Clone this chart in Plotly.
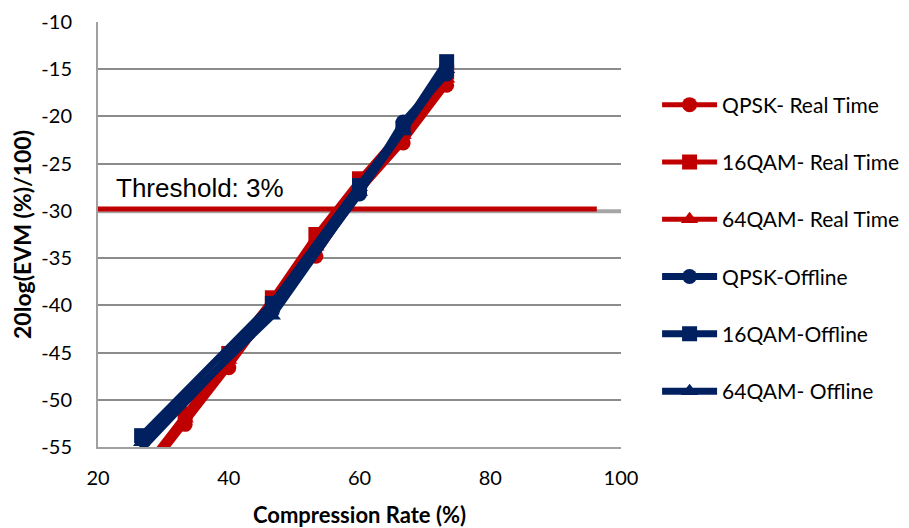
import plotly.graph_objects as go

# Real-time measurements (all compression rates)
rate_rt = [26.67, 33.33, 40, 46.67, 53.33, 60, 66.67, 73.33]
qpsk_rt = [-58.5, -52.6, -46.6, -40.3, -34.8, -28.0, -22.8, -16.7]
qam16_rt = [-57.5, -51.5, -45.1, -39.2, -32.5, -26.6, -21.3, -15.3]
qam64_rt = [-58.0, -52.0, -45.8, -39.8, -33.8, -27.5, -22.0, -16.0]

# Offline measurements (fewer compression rates)
rate_off = [26.67, 46.67, 60, 66.67, 73.33]
qpsk_off = [-55.2, -40.6, -28.2, -20.6, -15.5]
qam16_off = [-53.8, -39.8, -27.3, -21.2, -14.2]
qam64_off = [-54.5, -41.1, -28.0, -21.5, -15.0]

threshold_x = [20, 96.3]
threshold_y = [-29.8, -29.8]

y_tick_vals = [-55, -50, -45, -40, -35, -30, -25, -20, -15, -10]
y_tick_text = ["-55", "-50", "-45", "-40", "-35", "-30", "-25", "-20", "-15", "-10"]

series_names = ["QPSK- Real Time", "16QAM- Real Time", "64QAM- Real Time",
                "QPSK-Offline", "16QAM-Offline", "64QAM- Offline"]
series_x = [rate_rt, rate_rt, rate_rt, rate_off, rate_off, rate_off]
series_values = [qpsk_rt, qam16_rt, qam64_rt, qpsk_off, qam16_off, qam64_off]
symbols = ["circle", "square", "triangle-up", "circle", "square", "triangle-up"]
RED = "#C00000"
BLUE = "#002060"
colors = [RED, RED, RED, BLUE, BLUE, BLUE]
widths = [5, 5, 5, 7, 7, 7]
clips = [True, True, True, False, False, False]

FONT = "Lato, Noto Sans, sans-serif"

fig = go.Figure()

# gray shadow of threshold
fig.add_trace(go.Scatter(x=[20, 100], y=[-30.05, -30.05], mode="lines",
                         line=dict(color="#A6A6A6", width=4),
                         showlegend=False, hoverinfo="skip"))
fig.add_trace(go.Scatter(x=threshold_x, y=threshold_y, mode="lines",
                         line=dict(color=RED, width=5),
                         showlegend=False, hoverinfo="skip"))

for i, (name, xs, vals, sym, col, w, clip) in enumerate(
        zip(series_names, series_x, series_values, symbols, colors, widths, clips)):
    fig.add_trace(go.Scatter(
        x=xs, y=vals, name=name, mode="lines+markers",
        line=dict(color=col, width=w),
        marker=dict(symbol=sym, size=15, color=col),
        legendgroup=f"g{i}", cliponaxis=clip,
    ))

fig.add_annotation(x=22.4, y=-27.6, xref="x", yref="y", text="Threshold: 3%",
                   showarrow=False, xanchor="left", yanchor="middle",
                   font=dict(family="Liberation Sans, Arial", size=26, color="black"))

# page body has an 8px margin; offsets compensate so the plot sits where the reference has it
fig.update_layout(
    width=909, height=520,
    margin=dict(l=90, r=296, t=14, b=81, autoexpand=False),
    paper_bgcolor="white", plot_bgcolor="white",
    font=dict(family=FONT, size=20, color="black"),
    showlegend=True,
    legend=dict(x=1.069, y=0.853, xanchor="left", yanchor="top",
                traceorder="grouped", tracegroupgap=27,
                font=dict(family=FONT, size=21, color="black"),
                itemwidth=55, bgcolor="rgba(0,0,0,0)"),
)

fig.update_xaxes(range=[20, 100], dtick=20, tick0=20, showgrid=False,
                 showline=True, linecolor="#A0A0A0", linewidth=2,
                 ticks="", ticklabelstandoff=12, zeroline=False, automargin=False,
                 tickfont=dict(family=FONT, size=20),
                 title=dict(text="<b>Compression Rate (%)</b>",
                            font=dict(family=FONT, size=22),
                            standoff=21))
fig.update_yaxes(range=[-55, -10], tickvals=y_tick_vals, ticktext=y_tick_text,
                 showgrid=True, gridcolor="#8C8C8C", gridwidth=2,
                 showline=True, linecolor="#A0A0A0", linewidth=2,
                 ticks="", zeroline=False, automargin=False,
                 ticklabelstandoff=20,
                 tickfont=dict(family=FONT, size=20),
                 title=dict(text="<b>20log(EVM (%)/100)</b>",
                            font=dict(family=FONT, size=23),
                            standoff=10))

fig.write_html("out.html")
